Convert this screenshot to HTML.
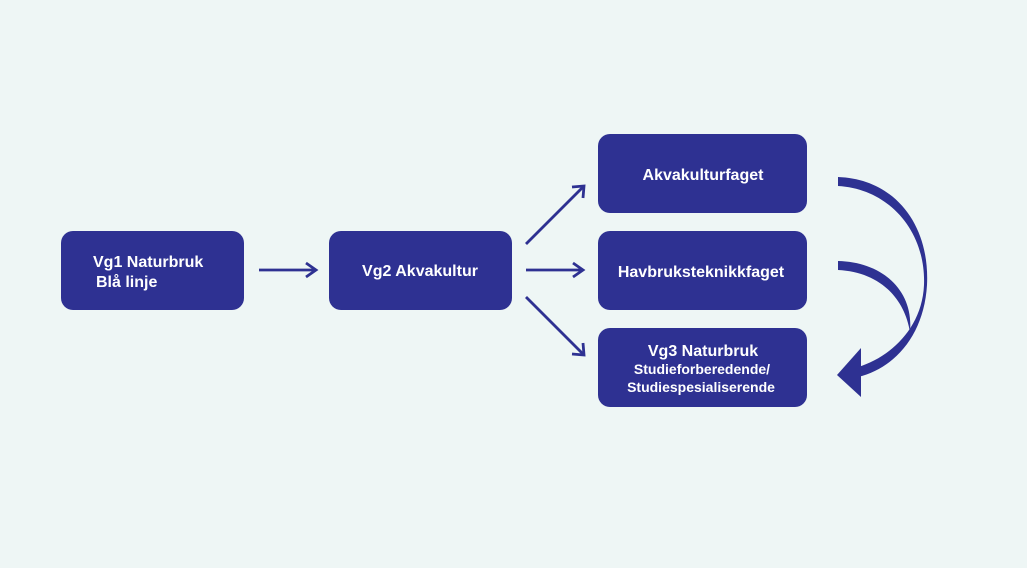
<!DOCTYPE html>
<html><head><meta charset="utf-8"><style>
html,body{margin:0;padding:0;background:#eef6f5;}
svg{display:block}
text{font-family:"Liberation Sans",Arial,sans-serif;font-weight:bold;fill:#fff}
</style></head><body>
<svg width="1027" height="568" viewBox="0 0 1027 568">
<rect width="1027" height="568" fill="#eef6f5"/>
<g fill="#2e3192">
<rect x="61" y="231" width="183" height="79" rx="12"/>
<rect x="329" y="231" width="183" height="79" rx="12"/>
<rect x="598" y="134" width="209" height="79" rx="12"/>
<rect x="598" y="231" width="209" height="79" rx="12"/>
<rect x="598" y="328" width="209" height="79" rx="12"/>
</g>
<text x="93" y="267" font-size="16">Vg1 Naturbruk</text>
<text x="96" y="287" font-size="16">Blå linje</text>
<text x="420" y="276" font-size="16" text-anchor="middle">Vg2 Akvakultur</text>
<text x="703" y="180" font-size="16" text-anchor="middle">Akvakulturfaget</text>
<text x="701" y="277" font-size="16" text-anchor="middle">Havbruksteknikkfaget</text>
<text x="703" y="356" font-size="16" text-anchor="middle">Vg3 Naturbruk</text>
<text x="702" y="374" font-size="14" text-anchor="middle">Studieforberedende/</text>
<text x="701" y="392" font-size="14" text-anchor="middle">Studiespesialiserende</text>
<g stroke="#2e3192" stroke-width="2.8" fill="none">
<line x1="259" y1="270" x2="316" y2="270"/><polyline points="306,263 316,270 306,277"/>
<line x1="526" y1="270" x2="583" y2="270"/><polyline points="573,263 583,270 573,277"/>
<line x1="526" y1="244" x2="584" y2="186"/><polyline points="572,187 584,186 583,198"/>
<line x1="526" y1="297" x2="584" y2="355"/><polyline points="583,343 584,355 572,354"/>
</g>
<g fill="#2e3192">
<path d="M838,177 C895,179 930,225 927,285 C924,335 895,368 858,377 L858,367 C888,358 922,330 924,285 C926,232 890,189 838,186 Z"/>
<path d="M838,261 C882,262 914,290 910,332 C904,296 878,272 838,270 Z"/>
<polygon points="837,375 861,348 861,397"/>
</g>
</svg>
</body></html>
